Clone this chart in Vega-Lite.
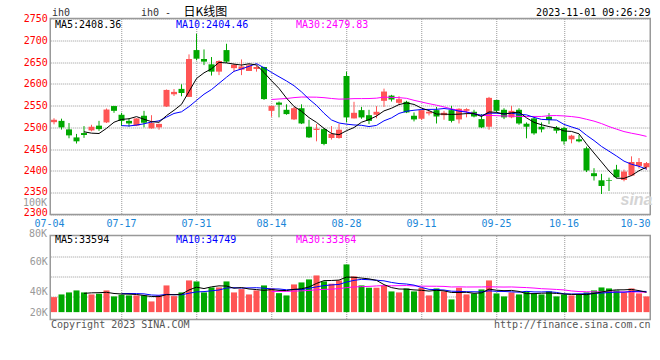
{
  "$schema": "https://vega.github.io/schema/vega-lite/v6.json",
  "background": "white",
  "padding": {"left": 21.25, "top": 4.5, "right": 4, "bottom": 4},
  "spacing": 21,
  "bounds": "flush",
  "config": {
    "view": {"stroke": "#999", "strokeWidth": 1.5},
    "axis": {"labelFont": "DejaVu Sans Mono", "labelFontSize": 10, "gridDash": [1, 1], "gridColor": "#999", "gridWidth": 1, "domain": false, "ticks": false},
    "text": {"font": "DejaVu Sans Mono", "fontSize": 10, "baseline": "middle"}
  },
  "datasets": {
    "k": [
      {"d":"07-04","o":2512,"h":2521,"l":2507,"c":2517.5,"v":30180},
      {"d":"07-05","o":2515,"h":2520,"l":2495,"c":2500,"v":32010},
      {"d":"07-06","o":2495.4,"h":2510,"l":2475,"c":2481.7,"v":33370},
      {"d":"07-07","o":2477,"h":2485,"l":2463,"c":2468,"v":34730},
      {"d":"07-10","o":2487,"h":2503,"l":2476,"c":2482.5,"v":33370},
      {"d":"07-11","o":2493,"h":2506,"l":2491,"c":2501.5,"v":32010},
      {"d":"07-12","o":2504,"h":2515,"l":2492,"c":2496,"v":32490},
      {"d":"07-13","o":2511.4,"h":2543.4,"l":2510,"c":2541,"v":34730},
      {"d":"07-14","o":2549,"h":2549.5,"l":2533.5,"c":2538,"v":30660},
      {"d":"07-17","o":2529,"h":2533.5,"l":2503,"c":2515,"v":31810},
      {"d":"07-18","o":2515,"h":2520.6,"l":2501.5,"c":2509,"v":31330},
      {"d":"07-19","o":2504,"h":2521,"l":2503,"c":2520.6,"v":31330},
      {"d":"07-20","o":2526.7,"h":2538,"l":2500,"c":2510.7,"v":31330},
      {"d":"07-21","o":2497.7,"h":2528,"l":2497,"c":2510,"v":27260},
      {"d":"07-24","o":2500,"h":2508.5,"l":2494.7,"c":2508,"v":31330},
      {"d":"07-25","o":2548,"h":2587,"l":2547,"c":2586,"v":38120},
      {"d":"07-26","o":2576,"h":2588,"l":2572,"c":2581.5,"v":30860},
      {"d":"07-27","o":2588.4,"h":2599,"l":2571.5,"c":2579,"v":33370},
      {"d":"07-28","o":2570,"h":2667.6,"l":2570,"c":2657,"v":41510},
      {"d":"07-31","o":2677.5,"h":2715,"l":2654,"c":2657.7,"v":40830},
      {"d":"08-01","o":2657,"h":2679,"l":2643,"c":2651,"v":33370},
      {"d":"08-02","o":2644.8,"h":2661.5,"l":2619,"c":2628,"v":36760},
      {"d":"08-03","o":2628,"h":2654,"l":2620,"c":2652.4,"v":36760},
      {"d":"08-04","o":2677.5,"h":2692,"l":2648,"c":2651,"v":40830},
      {"d":"08-07","o":2636,"h":2646,"l":2628,"c":2644,"v":33370},
      {"d":"08-08","o":2632.6,"h":2656,"l":2620,"c":2640,"v":35610},
      {"d":"08-09","o":2629.5,"h":2646,"l":2629.5,"c":2642.5,"v":32010},
      {"d":"08-10","o":2634,"h":2642.5,"l":2628,"c":2638.7,"v":34730},
      {"d":"08-11","o":2638.7,"h":2639,"l":2563,"c":2565,"v":38120},
      {"d":"08-14","o":2538,"h":2549.5,"l":2524.4,"c":2549.5,"v":36080},
      {"d":"08-15","o":2557,"h":2559.4,"l":2523,"c":2552,"v":32890},
      {"d":"08-16","o":2540.4,"h":2553,"l":2529,"c":2530.5,"v":31330},
      {"d":"08-17","o":2518.3,"h":2547,"l":2516.8,"c":2544,"v":38800},
      {"d":"08-18","o":2544,"h":2553,"l":2507.6,"c":2509,"v":40150},
      {"d":"08-21","o":2501.5,"h":2517.5,"l":2475.6,"c":2477,"v":42190},
      {"d":"08-22","o":2494,"h":2507.6,"l":2468,"c":2497,"v":44900},
      {"d":"08-23","o":2496,"h":2498.5,"l":2459,"c":2462,"v":40830},
      {"d":"08-24","o":2475.6,"h":2503,"l":2472,"c":2485,"v":39270},
      {"d":"08-25","o":2475.6,"h":2507.6,"l":2474,"c":2494.7,"v":41510},
      {"d":"08-28","o":2618,"h":2628,"l":2511.4,"c":2522.9,"v":52370},
      {"d":"08-29","o":2520.6,"h":2558.7,"l":2520.6,"c":2533.5,"v":44230},
      {"d":"08-30","o":2539.6,"h":2547,"l":2519.8,"c":2522.9,"v":38120},
      {"d":"08-31","o":2528,"h":2540.4,"l":2507.6,"c":2515,"v":36560},
      {"d":"09-01","o":2529,"h":2548.8,"l":2521,"c":2535.8,"v":36560},
      {"d":"09-04","o":2561,"h":2589,"l":2547,"c":2582.3,"v":37910},
      {"d":"09-05","o":2573,"h":2574.7,"l":2559.4,"c":2564,"v":34050},
      {"d":"09-06","o":2556.4,"h":2571.6,"l":2553.3,"c":2564.8,"v":33370},
      {"d":"09-07","o":2558.7,"h":2561,"l":2532.8,"c":2534.3,"v":36080},
      {"d":"09-08","o":2526.7,"h":2534.3,"l":2513.7,"c":2518.3,"v":34050},
      {"d":"09-11","o":2519.8,"h":2539.6,"l":2516.8,"c":2539.6,"v":36560},
      {"d":"09-12","o":2532,"h":2538,"l":2527.4,"c":2535.8,"v":31330},
      {"d":"09-13","o":2539.6,"h":2547,"l":2509,"c":2525,"v":36080},
      {"d":"09-14","o":2528,"h":2538,"l":2517.5,"c":2533.5,"v":34050},
      {"d":"09-15","o":2539.6,"h":2549.5,"l":2511.4,"c":2515,"v":28620},
      {"d":"09-18","o":2518.3,"h":2544,"l":2509,"c":2542.7,"v":36560},
      {"d":"09-19","o":2538,"h":2544,"l":2523,"c":2542,"v":32010},
      {"d":"09-20","o":2535.8,"h":2540.4,"l":2523,"c":2525,"v":32690},
      {"d":"09-21","o":2519,"h":2530.5,"l":2498.5,"c":2500,"v":35400},
      {"d":"09-22","o":2501.5,"h":2570,"l":2494.7,"c":2567.8,"v":41510},
      {"d":"09-25","o":2563,"h":2563,"l":2534.3,"c":2538,"v":32690},
      {"d":"09-26","o":2540.4,"h":2544,"l":2519,"c":2523,"v":30660},
      {"d":"09-27","o":2523,"h":2549.5,"l":2521,"c":2538,"v":33370},
      {"d":"09-28","o":2540.4,"h":2544,"l":2506,"c":2509,"v":32010},
      {"d":"10-09","o":2508.4,"h":2511.4,"l":2474.9,"c":2501.5,"v":34050},
      {"d":"10-10","o":2520.6,"h":2523,"l":2483,"c":2486.3,"v":32690},
      {"d":"10-11","o":2501.5,"h":2511.4,"l":2488.6,"c":2495.4,"v":32010},
      {"d":"10-12","o":2524.4,"h":2532.8,"l":2507.6,"c":2516.8,"v":34050},
      {"d":"10-13","o":2500,"h":2503,"l":2486.3,"c":2492.4,"v":30660},
      {"d":"10-16","o":2498.5,"h":2501.5,"l":2460.4,"c":2468,"v":32010},
      {"d":"10-17","o":2472.6,"h":2483,"l":2463.4,"c":2481,"v":31330},
      {"d":"10-18","o":2472.6,"h":2483,"l":2465.7,"c":2468,"v":32010},
      {"d":"10-19","o":2452,"h":2455.8,"l":2397.4,"c":2401,"v":33370},
      {"d":"10-20","o":2394.8,"h":2406.3,"l":2378,"c":2388,"v":34730},
      {"d":"10-23","o":2378.5,"h":2393.3,"l":2347,"c":2365.5,"v":36760},
      {"d":"10-24","o":2378.5,"h":2384.6,"l":2354,"c":2377,"v":36080},
      {"d":"10-25","o":2403.2,"h":2414,"l":2384,"c":2385.7,"v":34730},
      {"d":"10-26","o":2379.3,"h":2403.2,"l":2376.2,"c":2398.6,"v":33370},
      {"d":"10-27","o":2389.4,"h":2433.5,"l":2388,"c":2420.5,"v":36080},
      {"d":"10-30","o":2411.5,"h":2429.6,"l":2405.5,"c":2420.5,"v":32690},
      {"d":"10-31","o":2408.5,"h":2420.5,"l":2403,"c":2418,"v":30660}
    ]
  },
  "vconcat": [
    {
      "width": 600,
      "height": 196,
      "data": {"name": "k"},
      "resolve": {"axis": {"x": "independent", "y": "independent"}},
      "layer": [
        {
          "mark": {"type": "rule", "strokeWidth": 1},
          "encoding": {
            "x": {"field": "d", "type": "ordinal", "title": null,
              "scale": {"type": "band", "paddingInner": 0, "paddingOuter": 0},
              "axis": {
                "orient": "bottom",
                "values": ["07-04","07-17","07-31","08-14","08-28","09-11","09-25","10-16","10-30"],
                "bandPosition": 0.55, "grid": true, "labelAngle": 0, "labelPadding": 3.5,
                "labelColor": "#1a86d8",
                "gridColor": {"condition": {"test": "datum.value == '07-04' || datum.value == '10-30'", "value": "transparent"}, "value": "#999"},
                "labelOffset": {"condition": [{"test": "datum.value == '07-04'", "value": -4.5}, {"test": "datum.value == '10-30'", "value": -3.5}], "value": 0}
              }},
            "y": {"field": "l", "type": "quantitative", "title": null,
              "scale": {"domain": [2300, 2750], "nice": false, "zero": false},
              "axis": {"orient": "left", "format": "d", "values": [2300,2350,2400,2450,2500,2550,2600,2650,2700,2750], "grid": true, "labelColor": "#ff0000", "labelPadding": 3,
                "labelOffset": {"condition": [{"test": "datum.value == 2300", "value": -2.5}, {"test": "datum.value == 2350", "value": -1}], "value": 0}}},
            "y2": {"field": "h"},
            "color": {"condition": {"test": "datum.c >= datum.o", "value": "#ff5555"}, "value": "#00a800"}
          }
        },
        {
          "mark": {"type": "bar", "width": {"band": 0.8}},
          "encoding": {
            "x": {"field": "d", "type": "ordinal", "axis": null},
            "y": {"field": "o", "type": "quantitative", "axis": null},
            "y2": {"field": "c"},
            "color": {"condition": {"test": "datum.c >= datum.o", "value": "#ff5555"}, "value": "#00a800"}
          }
        },
        {
          "transform": [
            {"window": [{"op": "mean", "field": "c", "as": "m"}, {"op": "count", "as": "n"}], "frame": [-29, 0], "sort": [{"field": "d"}]},
            {"filter": "datum.n == 30"}
          ],
          "mark": {"type": "line", "color": "#ff00ff", "strokeWidth": 1},
          "encoding": {
            "x": {"field": "d", "type": "ordinal", "axis": null},
            "y": {"field": "m", "type": "quantitative", "axis": null}
          }
        },
        {
          "transform": [
            {"window": [{"op": "mean", "field": "c", "as": "m"}, {"op": "count", "as": "n"}], "frame": [-9, 0], "sort": [{"field": "d"}]},
            {"filter": "datum.n == 10"}
          ],
          "mark": {"type": "line", "color": "#0000ff", "strokeWidth": 1},
          "encoding": {
            "x": {"field": "d", "type": "ordinal", "axis": null},
            "y": {"field": "m", "type": "quantitative", "axis": null}
          }
        },
        {
          "transform": [
            {"window": [{"op": "mean", "field": "c", "as": "m"}, {"op": "count", "as": "n"}], "frame": [-4, 0], "sort": [{"field": "d"}]},
            {"filter": "datum.n == 5"}
          ],
          "mark": {"type": "line", "color": "#000000", "strokeWidth": 1},
          "encoding": {
            "x": {"field": "d", "type": "ordinal", "axis": null},
            "y": {"field": "m", "type": "quantitative", "axis": null}
          }
        },
        {
          "data": {"values": [{}]},
          "mark": {"type": "text", "text": "sina", "align": "right", "dx": 6, "fontStyle": "italic", "fontWeight": "bold", "font": "Liberation Sans", "fontSize": 16, "fill": "#d4d4d4"},
          "encoding": {"x": {"datum": "10-31", "type": "ordinal", "axis": null}, "y": {"datum": 2333, "type": "quantitative", "axis": null}}
        },
        {
          "data": {"values": [{}]},
          "mark": {"type": "text", "text": "MA5:2408.36", "align": "left", "dx": 1, "fill": "#000000"},
          "encoding": {"x": {"datum": "07-04", "type": "ordinal", "axis": null}, "y": {"datum": 2734.6, "type": "quantitative", "axis": null}}
        },
        {
          "data": {"values": [{}]},
          "mark": {"type": "text", "text": "MA10:2404.46", "align": "left", "dx": 2, "fill": "#0000ff"},
          "encoding": {"x": {"datum": "07-26", "type": "ordinal", "axis": null}, "y": {"datum": 2734.6, "type": "quantitative", "axis": null}}
        },
        {
          "data": {"values": [{}]},
          "mark": {"type": "text", "text": "MA30:2479.83", "align": "left", "dx": 2, "fill": "#ff00ff"},
          "encoding": {"x": {"datum": "08-17", "type": "ordinal", "axis": null}, "y": {"datum": 2734.6, "type": "quantitative", "axis": null}}
        },
        {
          "data": {"values": [{}]},
          "mark": {"type": "text", "text": "ih0", "align": "left", "dx": -2, "fill": "#333333"},
          "encoding": {"x": {"datum": "07-04", "type": "ordinal", "axis": null}, "y": {"datum": 2762.6, "type": "quantitative", "axis": null}}
        },
        {
          "data": {"values": [{}]},
          "mark": {"type": "text", "text": "ih0 -", "align": "left", "dx": -3, "fill": "#333333"},
          "encoding": {"x": {"datum": "07-20", "type": "ordinal", "axis": null}, "y": {"datum": 2763.7, "type": "quantitative", "axis": null}}
        },
        {
          "data": {"values": [{}]},
          "mark": {"type": "text", "text": "日K线图", "align": "left", "dx": 2, "font": "Noto Sans CJK SC", "fontSize": 12, "fill": "#000000"},
          "encoding": {"x": {"datum": "07-27", "type": "ordinal", "axis": null}, "y": {"datum": 2765, "type": "quantitative", "axis": null}}
        },
        {
          "data": {"values": [{}]},
          "mark": {"type": "text", "text": "2023-11-01 09:26:29", "align": "right", "dx": 4, "fill": "#000000"},
          "encoding": {"x": {"datum": "10-31", "type": "ordinal", "axis": null}, "y": {"datum": 2762, "type": "quantitative", "axis": null}}
        }
      ]
    },
    {
      "width": 600,
      "height": 84,
      "data": {"name": "k"},
      "resolve": {"axis": {"x": "independent", "y": "independent"}},
      "layer": [
        {
          "mark": {"type": "bar", "width": {"band": 0.8}},
          "encoding": {
            "x": {"field": "d", "type": "ordinal", "title": null,
              "scale": {"type": "band", "paddingInner": 0, "paddingOuter": 0},
              "axis": {
                "orient": "bottom",
                "values": ["07-04","07-17","07-31","08-14","08-28","09-11","09-25","10-16","10-30"],
                "bandPosition": 0.55, "grid": true, "labels": false,
                "gridColor": {"condition": {"test": "datum.value == '07-04' || datum.value == '10-30'", "value": "transparent"}, "value": "#999"}
              }},
            "y": {"field": "v", "type": "quantitative", "title": null,
              "scale": {"domain": [15000, 72000], "nice": false, "zero": false},
              "axis": {"orient": "left", "values": [30470, 44040, 57610], "grid": true, "labels": false}},
            "y2": {"datum": 20000},
            "color": {"condition": {"test": "datum.c >= datum.o", "value": "#ff5555"}, "value": "#00a800"}
          }
        },
        {
          "transform": [
            {"window": [{"op": "mean", "field": "v", "as": "m"}, {"op": "count", "as": "n"}], "frame": [-29, 0], "sort": [{"field": "d"}]},
            {"filter": "datum.n == 30"}
          ],
          "mark": {"type": "line", "color": "#ff00ff", "strokeWidth": 1},
          "encoding": {
            "x": {"field": "d", "type": "ordinal", "axis": null},
            "y": {"field": "m", "type": "quantitative", "axis": null}
          }
        },
        {
          "transform": [
            {"window": [{"op": "mean", "field": "v", "as": "m"}, {"op": "count", "as": "n"}], "frame": [-9, 0], "sort": [{"field": "d"}]},
            {"filter": "datum.n == 10"}
          ],
          "mark": {"type": "line", "color": "#0000ff", "strokeWidth": 1},
          "encoding": {
            "x": {"field": "d", "type": "ordinal", "axis": null},
            "y": {"field": "m", "type": "quantitative", "axis": null}
          }
        },
        {
          "transform": [
            {"window": [{"op": "mean", "field": "v", "as": "m"}, {"op": "count", "as": "n"}], "frame": [-4, 0], "sort": [{"field": "d"}]},
            {"filter": "datum.n == 5"}
          ],
          "mark": {"type": "line", "color": "#000000", "strokeWidth": 1},
          "encoding": {
            "x": {"field": "d", "type": "ordinal", "axis": null},
            "y": {"field": "m", "type": "quantitative", "title": null,
              "axis": {"orient": "left", "values": [20000, 33864, 54696], "grid": false, "labelColor": "#999999", "labelPadding": 3,
                "labelExpr": "datum.value < 25000 ? '20K' : datum.value < 40000 ? '40K' : '60K'"}}
          }
        },
        {
          "data": {"values": [{}]},
          "mark": {"type": "text", "text": "MA5:33594", "align": "left", "dx": 1, "fill": "#000000"},
          "encoding": {"x": {"datum": "07-04", "type": "ordinal", "axis": null}, "y": {"datum": 69150, "type": "quantitative", "axis": null}}
        },
        {
          "data": {"values": [{}]},
          "mark": {"type": "text", "text": "MA10:34749", "align": "left", "dx": 2, "fill": "#0000ff"},
          "encoding": {"x": {"datum": "07-26", "type": "ordinal", "axis": null}, "y": {"datum": 69150, "type": "quantitative", "axis": null}}
        },
        {
          "data": {"values": [{}]},
          "mark": {"type": "text", "text": "MA30:33364", "align": "left", "dx": 2, "fill": "#ff00ff"},
          "encoding": {"x": {"datum": "08-17", "type": "ordinal", "axis": null}, "y": {"datum": 69150, "type": "quantitative", "axis": null}}
        },
        {
          "data": {"values": [{}]},
          "mark": {"type": "text", "text": "80K", "align": "right", "dx": -7, "fill": "#999999"},
          "encoding": {"x": {"datum": "07-04", "type": "ordinal", "axis": null}, "y": {"datum": 73000, "type": "quantitative", "axis": null}}
        },
        {
          "data": {"values": [{}]},
          "mark": {"type": "text", "text": "100K", "align": "right", "dx": -7, "fill": "#999999"},
          "encoding": {"x": {"datum": "07-04", "type": "ordinal", "axis": null}, "y": {"datum": 94390, "type": "quantitative", "axis": null}}
        },
        {
          "data": {"values": [{}]},
          "mark": {"type": "text", "text": "Copyright 2023 SINA.COM", "align": "left", "dx": -3, "fill": "#555555"},
          "encoding": {"x": {"datum": "07-04", "type": "ordinal", "axis": null}, "y": {"datum": 11607, "type": "quantitative", "axis": null}}
        },
        {
          "data": {"values": [{}]},
          "mark": {"type": "text", "text": "http://finance.sina.com.cn", "align": "right", "dx": 4, "fill": "#555555"},
          "encoding": {"x": {"datum": "10-31", "type": "ordinal", "axis": null}, "y": {"datum": 11607, "type": "quantitative", "axis": null}}
        }
      ]
    }
  ]
}
